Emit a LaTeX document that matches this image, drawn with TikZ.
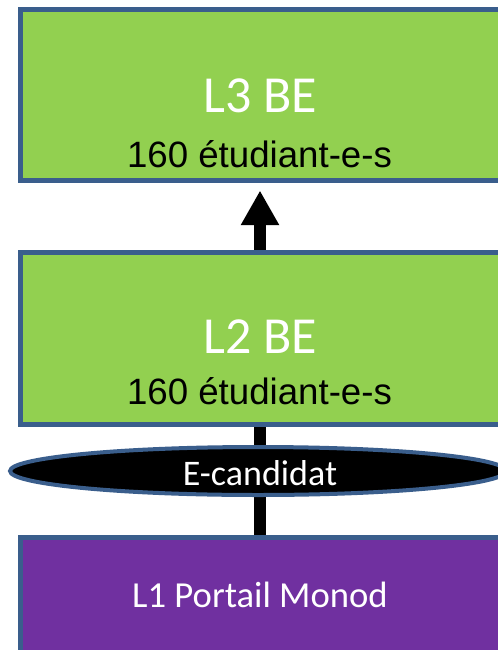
\documentclass[tikz,border=0pt]{standalone}
\usepackage{fontspec}
\setmainfont{Carlito}
\newfontfamily\arialfont{Liberation Sans}
\usetikzlibrary{shapes.geometric,arrows.meta}
\definecolor{vertbox}{HTML}{92D050}
\definecolor{bordbox}{HTML}{3A5E8C}
\definecolor{violetbox}{HTML}{7030A0}
\pgfdeclarelayer{bg}
\pgfsetlayers{bg,main}
\tikzset{
  annee/.style={draw=bordbox, line width=3.75pt, fill=vertbox, minimum width=360pt, inner sep=0pt},
  titre/.style={anchor=base, inner sep=0pt, text=white, font=\fontsize{39}{44}\selectfont},
  effectif/.style={anchor=base, inner sep=0pt, font=\arialfont\fontsize{27.5}{32}\selectfont},
  passage/.style={line width=9.5pt}
}
\begin{document}
\begin{tikzpicture}[x={(0.75pt,0)}, y={(0,-0.75pt)}]
\useasboundingbox (0,0) rectangle (498,650);
\clip (0,0) rectangle (498,650);
% Boites des annees
\node[annee, minimum height=128.25pt] (l3) at (260,94.5) {};
\node[annee, minimum height=129pt] (l2) at (260,338) {};
\node[annee, fill=violetbox, minimum height=171pt] (l1) at (260,651) {};
% Textes
\node[titre] (l3titre) at (260,112) {L3 BE};
\node[effectif] (l3eff) at (259.5,167) {160 étudiant-e-s};
\node[titre] (l2titre) at (260,353) {L2 BE};
\node[effectif] (l2eff) at (259.5,404) {160 étudiant-e-s};
\node[titre, font=\fontsize{27.5}{32}\selectfont] (l1titre) at (260,607) {L1 Portail Monod};
% Fleches entre les annees
\begin{pgfonlayer}{bg}
\draw[passage, -{Triangle[width=27pt,length=26pt]}, shorten >=6pt] (l2.north) -- (l3.south);
\draw[passage, line width=9pt] (l1.north) -- (l2.south);
\end{pgfonlayer}
% Ellipse E-candidat
\node[ellipse, draw=bordbox, line width=3pt, fill=black, minimum width=372pt, minimum height=36pt, inner sep=0pt] (ecand) at (258,471) {};
\node[titre, font=\fontsize{27}{32}\selectfont] (ecandtxt) at (260,485) {E-candidat};
\end{tikzpicture}
\end{document}
